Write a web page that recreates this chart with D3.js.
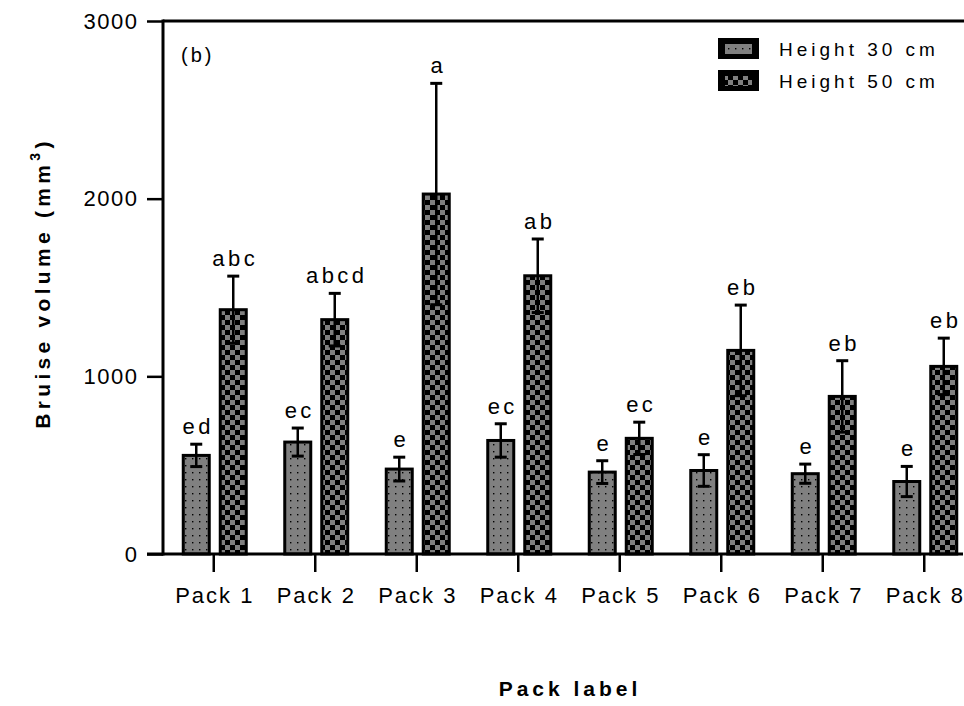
<!DOCTYPE html>
<html>
<head>
<meta charset="utf-8">
<script src="https://cdn.jsdelivr.net/npm/d3@7"></script>
<style>
  body { margin: 0; background: #fff; }
  text { font-family: "Liberation Sans", Arial, sans-serif; fill: #000; }
</style>
</head>
<body>
<div id="chart"></div>
<script>
// values
var packs = ["Pack 1", "Pack 2", "Pack 3", "Pack 4", "Pack 5", "Pack 6", "Pack 7", "Pack 8"];
var series = ["Height 30 cm", "Height 50 cm"];
var mean30 = [555, 630, 478, 639, 461, 470, 452, 408];
var err30 = [63, 79, 67, 94, 64, 89, 54, 85];
var mean50 = [1375, 1319, 2026, 1566, 651, 1146, 887, 1056];
var err50 = [189, 148, 623, 207, 91, 255, 201, 159];
var letters30 = ["ed", "ec", "e", "ec", "e", "e", "e", "e"];
var letters50 = ["abc", "abcd", "a", "ab", "ec", "eb", "eb", "eb"];
var yTicks = [0, 1000, 2000, 3000];

var width = 964, height = 706;
var svg = d3.select("#chart").append("svg").attr("width", width).attr("height", height);

// patterns
var defs = svg.append("defs");
var dots = defs.append("pattern").attr("id", "dots").attr("patternUnits", "userSpaceOnUse")
  .attr("width", 7).attr("height", 7);
dots.append("rect").attr("width", 7).attr("height", 7).attr("fill", "#808080");
dots.append("rect").attr("x", 3).attr("y", 3).attr("width", 1.4).attr("height", 1.4).attr("fill", "#000");

var checker = defs.append("pattern").attr("id", "checker").attr("patternUnits", "userSpaceOnUse")
  .attr("width", 10).attr("height", 10);
checker.append("rect").attr("width", 10).attr("height", 10).attr("fill", "#000");
checker.append("rect").attr("width", 5).attr("height", 5).attr("fill", "#808080");
checker.append("rect").attr("x", 5).attr("y", 5).attr("width", 5).attr("height", 5).attr("fill", "#808080");

var fills = ["url(#dots)", "url(#checker)"];

var x0 = d3.scaleBand().domain(packs).range([163, 975]);
var x1 = d3.scaleBand().domain(series).range([-36, 38]);
var y = d3.scaleLinear().domain([0, 3000]).range([554, 21]);
var barW = 26;

var rows = [];
packs.forEach(function(p, i) {
  rows.push({pack: p, s: series[0], v: mean30[i], e: err30[i], lab: letters30[i]});
  rows.push({pack: p, s: series[1], v: mean50[i], e: err50[i], lab: letters50[i]});
});
function cx(d) { return x0(d.pack) + x0.bandwidth() / 2 + x1(d.s) + x1.bandwidth() / 2; }

// bars
svg.append("g").selectAll("rect").data(rows).enter().append("rect")
  .attr("x", function(d) { return cx(d) - barW / 2; })
  .attr("y", function(d) { return y(d.v); })
  .attr("width", barW)
  .attr("height", function(d) { return y(0) - y(d.v); })
  .attr("fill", function(d) { return fills[series.indexOf(d.s)]; })
  .attr("stroke", "#000").attr("stroke-width", 3);

// error bars
var eb = svg.append("g").attr("stroke", "#000");
eb.selectAll("line.v").data(rows).enter().append("line")
  .attr("x1", cx).attr("x2", cx)
  .attr("y1", function(d) { return y(d.v - d.e); })
  .attr("y2", function(d) { return y(d.v + d.e); })
  .attr("stroke-width", 2.5);
eb.selectAll("line.t").data(rows).enter().append("line")
  .attr("x1", function(d) { return cx(d) - 6; }).attr("x2", function(d) { return cx(d) + 6; })
  .attr("y1", function(d) { return y(d.v + d.e); }).attr("y2", function(d) { return y(d.v + d.e); })
  .attr("stroke-width", 3);
eb.selectAll("line.b").data(rows).enter().append("line")
  .attr("x1", function(d) { return cx(d) - 6; }).attr("x2", function(d) { return cx(d) + 6; })
  .attr("y1", function(d) { return y(d.v - d.e); }).attr("y2", function(d) { return y(d.v - d.e); })
  .attr("stroke-width", 3);

// letters
svg.append("g").selectAll("text").data(rows).enter().append("text")
  .attr("x", function(d) { return cx(d) + 2; })
  .attr("y", function(d) { return y(d.v + d.e) - 10; })
  .attr("text-anchor", "middle")
  .style("font-size", "22px").style("letter-spacing", "3.5px")
  .text(function(d) { return d.lab; });

// y axis
var yAxis = svg.append("g").attr("transform", "translate(163,0)")
  .call(d3.axisLeft(y).tickValues(yTicks).tickSize(16).tickPadding(10).tickFormat(d3.format("d")));
yAxis.select(".domain").remove();
yAxis.selectAll(".tick line").attr("stroke-width", 2.5);
yAxis.selectAll(".tick text").style("font-size", "22px").style("letter-spacing", "1.5px")
  .attr("dx", "1.5px").attr("font-family", null);
svg.append("line").attr("x1", 163).attr("x2", 163).attr("y1", y(3000) - 1.5).attr("y2", y(0) + 1.5)
  .attr("stroke", "#000").attr("stroke-width", 3);
svg.append("line").attr("x1", 163).attr("x2", 964).attr("y1", y(3000)).attr("y2", y(3000))
  .attr("stroke", "#000").attr("stroke-width", 3);

// x axis
var xAxis = svg.append("g").attr("transform", "translate(0,554)")
  .call(d3.axisBottom(x0).tickSize(18).tickPadding(15));
xAxis.select(".domain").remove();
xAxis.selectAll(".tick line").attr("stroke-width", 2.5);
xAxis.selectAll(".tick text").style("font-size", "22px").style("letter-spacing", "2px")
  .attr("dx", "1px").attr("font-family", null);
svg.append("line").attr("x1", 147).attr("x2", 963).attr("y1", 554).attr("y2", 554)
  .attr("stroke", "#000").attr("stroke-width", 3);

// titles
svg.append("text").attr("x", 570).attr("y", 696).attr("text-anchor", "middle")
  .style("font-size", "21px").style("font-weight", "bold").style("letter-spacing", "4px")
  .text("Pack label");

var yt = svg.append("text").attr("transform", "translate(50,283) rotate(-90)")
  .attr("text-anchor", "middle")
  .style("font-size", "21px").style("font-weight", "bold").style("letter-spacing", "4.3px");
yt.append("tspan").text("Bruise volume (mm");
yt.append("tspan").attr("dy", -10).style("font-size", "14px").text("3");
yt.append("tspan").attr("dy", 10).text(")");

svg.append("text").attr("x", 181).attr("y", 62)
  .style("font-size", "20px").style("letter-spacing", "3px").text("(b)");

// legend
var leg = svg.append("g").selectAll("g").data(series).enter().append("g")
  .attr("transform", function(d, i) { return "translate(718," + (38 + i * 32) + ")"; });
leg.append("rect").attr("width", 41).attr("height", 21).attr("fill", "#000");
leg.append("rect").attr("x", 7).attr("y", 6).attr("width", 27).attr("height", 10)
  .attr("fill", function(d, i) { return fills[i]; });
leg.append("text").attr("x", 61).attr("y", 18)
  .style("font-size", "19px").style("letter-spacing", "4px")
  .text(function(d) { return d; });
</script>
</body>
</html>
